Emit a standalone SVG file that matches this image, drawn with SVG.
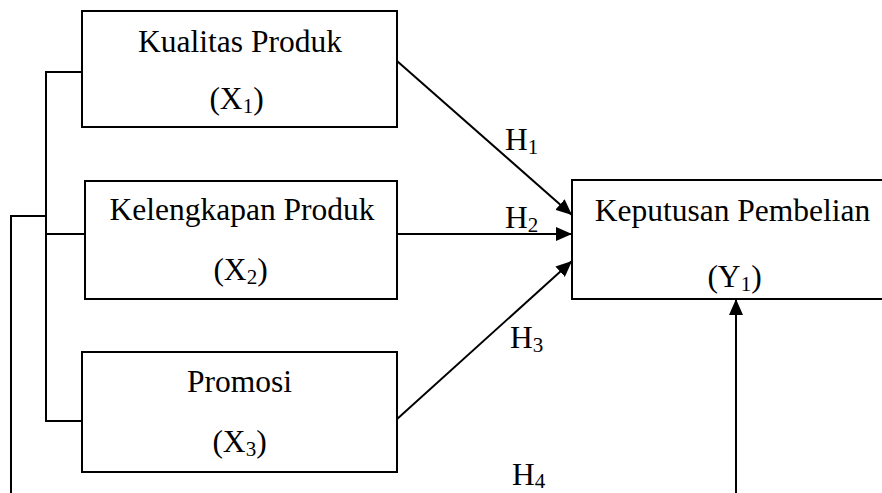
<svg xmlns="http://www.w3.org/2000/svg" width="882" height="493" viewBox="0 0 882 493">
<style>
  .box { fill: #fff; stroke: #000; stroke-width: 2; }
  .ln { fill: none; stroke: #000; stroke-width: 2; }
  .t { font-family: "Liberation Serif", "Times New Roman", serif; font-size: 31.5px; fill: #000; }
  .c { text-anchor: middle; }
  .sub { font-size: 21px; }
</style>
<defs>
  <marker id="ah" markerUnits="userSpaceOnUse" markerWidth="16" markerHeight="14" refX="16" refY="7" orient="auto">
    <path d="M0,0 L16,7 L0,14 z" fill="#000"/>
  </marker>
</defs>
<rect width="882" height="493" fill="#fff"/>
<g id="connectors">
  <path class="ln" d="M82,72 H46 V421 H82 M46,234 H85"/>
  <path class="ln" d="M11,493 V216 H46"/>
  <line class="ln" x1="397" y1="61" x2="572" y2="215" marker-end="url(#ah)"/>
  <line class="ln" x1="397" y1="234" x2="572" y2="234" marker-end="url(#ah)"/>
  <line class="ln" x1="396" y1="420" x2="572" y2="261" marker-end="url(#ah)"/>
  <line class="ln" x1="736" y1="493" x2="736" y2="299" marker-end="url(#ah)"/>
  <text class="t" x="505" y="150">H<tspan class="sub" dy="4">1</tspan></text>
  <text class="t" x="505" y="228">H<tspan class="sub" dy="4">2</tspan></text>
  <text class="t" x="510" y="348">H<tspan class="sub" dy="4">3</tspan></text>
  <text class="t" x="512" y="485">H<tspan class="sub" dy="3">4</tspan></text>
</g>
<g id="x1">
  <rect class="box" x="82" y="11" width="315" height="116"/>
  <text class="t c" x="240" y="52">Kualitas Produk</text>
  <text class="t c" x="236.5" y="109">(X<tspan class="sub" dy="4">1</tspan><tspan dy="-4">)</tspan></text>
</g>
<g id="x2">
  <rect class="box" x="85" y="181" width="312" height="118"/>
  <text class="t c" x="242" y="220">Kelengkapan Produk</text>
  <text class="t c" x="240.5" y="280">(X<tspan class="sub" dy="4">2</tspan><tspan dy="-4">)</tspan></text>
</g>
<g id="x3">
  <rect class="box" x="82" y="352" width="315" height="120"/>
  <text class="t c" x="239.5" y="392">Promosi</text>
  <text class="t c" x="239.5" y="452">(X<tspan class="sub" dy="4">3</tspan><tspan dy="-4">)</tspan></text>
</g>
<g id="y1">
  <rect class="box" x="572" y="180" width="320" height="119"/>
  <text class="t c" x="732.5" y="221">Keputusan Pembelian</text>
  <text class="t c" x="734.5" y="287">(Y<tspan class="sub" dy="4">1</tspan><tspan dy="-4">)</tspan></text>
</g>
</svg>
